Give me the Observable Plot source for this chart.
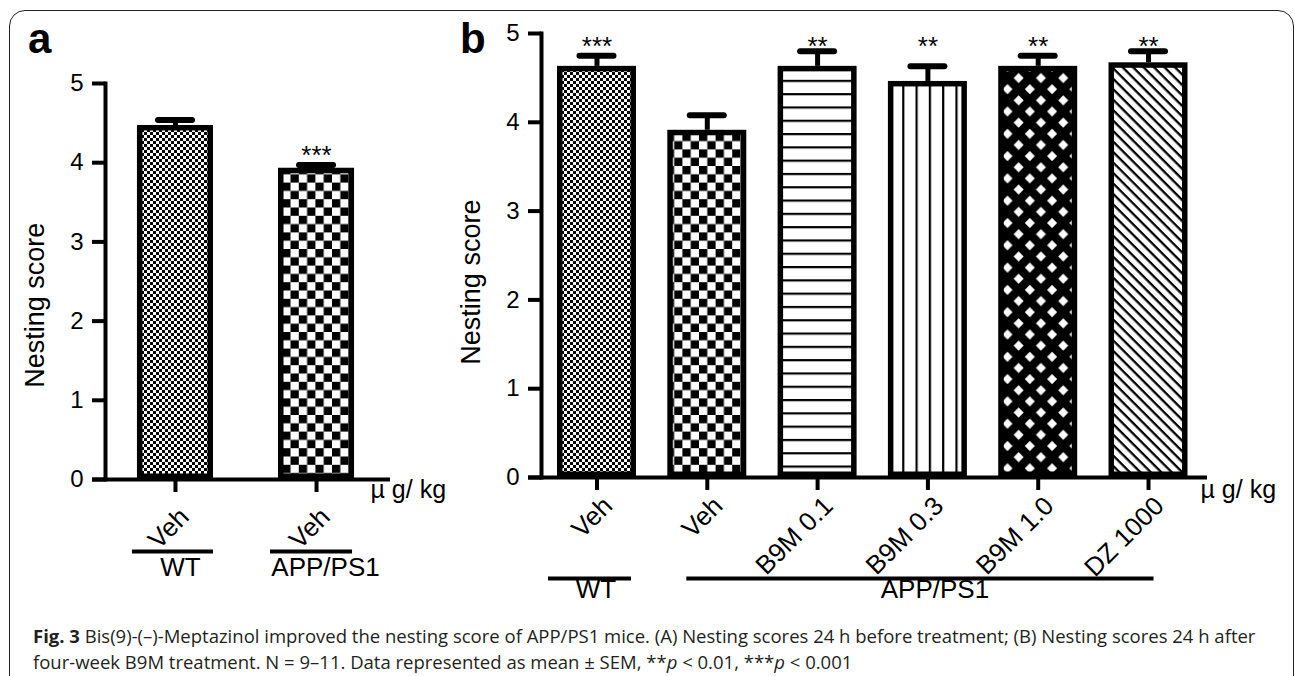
<!DOCTYPE html>
<html>
<head>
<meta charset="utf-8">
<script src="https://cdn.jsdelivr.net/npm/d3@7"></script>
<script src="https://cdn.jsdelivr.net/npm/@observablehq/plot@0.6"></script>
<style>
html, body { margin: 0; padding: 0; background: #fff; }
#root { position: relative; width: 1295px; height: 676px; overflow: hidden; font-family: "Liberation Sans", Arial, sans-serif; background: #fff; }
#box { position: absolute; left: 9px; top: 10px; width: 1285px; height: 720px; border: 1.5px solid #222; border-radius: 16px; box-sizing: border-box; }
.panel { position: absolute; top: 0; }
.plabel { position: absolute; font-weight: bold; font-size: 42px; line-height: 42px; color: #000; }
#caption { position: absolute; left: 33px; top: 623px; font-family: "Open Sans", sans-serif; font-size: 18.5px; line-height: 25.5px; color: #231f20; white-space: nowrap; }
</style>
</head>
<body>
<div id="root">
  <div id="box"></div>
  <svg width="0" height="0" style="position:absolute;left:0;top:0">
    <defs>
      <pattern id="pFine" patternUnits="userSpaceOnUse" width="6" height="6">
        <rect width="6" height="6" fill="#fff"/>
        <rect width="3" height="3" fill="#000"/>
        <rect x="3" y="3" width="3" height="3" fill="#000"/>
      </pattern>
      <pattern id="pCheck" patternUnits="userSpaceOnUse" width="16.6" height="16.6">
        <rect width="16.6" height="16.6" fill="#fff"/>
        <rect width="8.3" height="8.3" fill="#000"/>
        <rect x="8.3" y="8.3" width="8.3" height="8.3" fill="#000"/>
      </pattern>
      <pattern id="pH" patternUnits="userSpaceOnUse" width="10" height="13.3">
        <rect width="10" height="13.3" fill="#fff"/>
        <rect width="10" height="2.2" fill="#000"/>
      </pattern>
      <pattern id="pV" patternUnits="userSpaceOnUse" width="13.3" height="10">
        <rect width="13.3" height="10" fill="#fff"/>
        <rect width="2.2" height="10" fill="#000"/>
      </pattern>
      <pattern id="pLattice" patternUnits="userSpaceOnUse" width="22.3" height="22.3">
        <rect width="22.3" height="22.3" fill="#000"/>
        <polygon points="11.15,6.15 16.15,11.15 11.15,16.15 6.15,11.15" fill="#fff"/>
        <polygon points="0,-5 5,0 0,5 -5,0" fill="#fff"/>
        <polygon points="22.3,-5 27.3,0 22.3,5 17.3,0" fill="#fff"/>
        <polygon points="0,17.3 5,22.3 0,27.3 -5,22.3" fill="#fff"/>
        <polygon points="22.3,17.3 27.3,22.3 22.3,27.3 17.3,22.3" fill="#fff"/>
      </pattern>
      <pattern id="pDiag" patternUnits="userSpaceOnUse" width="7.4" height="7.4" patternTransform="rotate(45)">
        <rect width="7.4" height="7.4" fill="#fff"/>
        <rect width="7.4" height="2.3" fill="#000"/>
      </pattern>
    </defs>
  </svg>
  <div class="panel" id="pa" style="left:0"></div>
  <div class="panel" id="pb" style="left:450px"></div>
  <div class="plabel" style="left:28px;top:18px">a</div>
  <div class="plabel" style="left:460px;top:18px">b</div>
  <div id="caption"><b>Fig. 3</b> Bis(9)-(–)-Meptazinol improved the nesting score of APP/PS1 mice. (A) Nesting scores 24 h before treatment; (B) Nesting scores 24 h after<br>four-week B9M treatment. N = 9–11. Data represented as mean ± SEM, **<i>p</i> &lt; 0.01, ***<i>p</i> &lt; 0.001</div>
</div>
<script>
// ---------- data ----------
const yTicks = [0, 1, 2, 3, 4, 5];
const unitLabel = "µ g/ kg";
const axisTitle = "Nesting score";

// Panel a
const aLabels = ["Veh", "Veh"];
const aGroups = ["WT", "APP/PS1"];
const aMeans = [4.47, 3.93];
const aSEM = [0.07, 0.04];
const aSig = ["", "***"];

// Panel b
const bLabels = ["Veh", "Veh", "B9M 0.1", "B9M 0.3", "B9M 1.0", "DZ 1000"];
const bGroups = ["WT", "APP/PS1", "APP/PS1", "APP/PS1", "APP/PS1", "APP/PS1"];
const bMeans = [4.63, 3.91, 4.63, 4.46, 4.63, 4.67];
const bSEM = [0.12, 0.17, 0.17, 0.17, 0.12, 0.13];
const bSig = ["***", "", "**", "**", "**", "**"];

// ---------- styles ----------
const aFills = ["url(#pFine)", "url(#pCheck)"];
const bFills = ["url(#pFine)", "url(#pCheck)", "url(#pH)", "url(#pV)", "url(#pLattice)", "url(#pDiag)"];

function rowsOf(prefix, labels, groups, means, sems, sigs, fills) {
  return labels.map((label, i) => ({
    id: prefix + i, label, group: groups[i], mean: means[i], sem: sems[i], sig: sigs[i], fill: fills[i]
  }));
}
function groupSpans(rows) {
  const spans = [];
  for (const r of rows) {
    const last = spans[spans.length - 1];
    if (last && last.label === r.group) last.to = r.id;
    else spans.push({label: r.group, from: r.id, to: r.id});
  }
  return spans;
}

function makePanel(cfg) {
  const {rows, width, height, marginLeft, marginRight, marginTop, marginBottom,
         xRange, paddingInner, paddingOuter, bw, star, tickLab, unit, groupCfg} = cfg;
  const spans = groupSpans(rows);
  const font = 26;
  const groupMarks = spans.flatMap((s, k) => {
    const g = groupCfg[k];
    return [
      Plot.ruleY([s], {x1: "from", x2: "to", y: () => 0, dy: g.lineDy, insetLeft: g.insetLeft, insetRight: g.insetRight, strokeWidth: 4}),
      Plot.text([s], {x: () => g.anchor(rows, s), frameAnchor: "bottom", text: "label", dx: g.textDx, dy: g.textDy, fontSize: font})
    ];
  });
  return Plot.plot({
    width, height, marginLeft, marginRight, marginTop, marginBottom,
    style: {fontFamily: "Liberation Sans, Arial, sans-serif", color: "#000", background: "transparent"},
    x: {type: "band", domain: rows.map(d => d.id), range: xRange, paddingInner, paddingOuter, round: false},
    y: {domain: [0, 5]},
    color: {type: "identity"},
    marks: [
      Plot.barY(rows, {x: "id", y: "mean", fill: "fill", stroke: "#000", strokeWidth: 5.5, inset: 2.75}),
      Plot.ruleX(rows, {x: "id", y1: "mean", y2: d => d.mean + d.sem, strokeWidth: 5}),
      Plot.tickY(rows, {x: "id", y: d => d.mean + d.sem, strokeWidth: 6, strokeLinecap: "round", inset: (bw - 34) / 2}),
      Plot.text(rows.filter(d => d.sig), star),
      Plot.frame({anchor: "left", strokeWidth: 4, strokeLinecap: "square"}),
      Plot.ruleY([0], {strokeWidth: 4, insetLeft: -13}),
      Plot.axisY(yTicks, {tickSize: 13, tickPadding: 9, fontSize: 24, strokeWidth: 4, tickFormat: d => String(d), label: null}),
      Plot.axisX({tickSize: 13, strokeWidth: 4, tickFormat: () => "", label: null}),
      Plot.text(rows, {x: "id", frameAnchor: "bottom", text: "label", rotate: -45, textAnchor: "end", dx: tickLab.dx, dy: tickLab.dy, fontSize: font}),
      Plot.text([unitLabel], {frameAnchor: "bottom-right", textAnchor: "start", dx: unit.dx, dy: unit.dy, fontSize: 25}),
      Plot.text([axisTitle], {frameAnchor: "left", y: () => 2.2, rotate: -90, textAnchor: "middle", dx: -70, fontSize: 27}),
      ...groupMarks
    ]
  });
}

const rowsA = rowsOf("a", aLabels, aGroups, aMeans, aSEM, aSig, aFills);
const rowsB = rowsOf("b", bLabels, bGroups, bMeans, bSEM, bSig, bFills);

const panelA = makePanel({
  rows: rowsA, width: 450, height: 620, marginLeft: 105, marginRight: 60, marginTop: 83, marginBottom: 141,
  xRange: [105, 386], paddingInner: 0.461, paddingOuter: 0.2265, bw: 76,
  star: {x: "id", y: d => d.mean + d.sem, text: "sig", dy: -9.5, fontSize: 26},
  tickLab: {dx: 15, dy: 39},
  unit: {dx: -20, dy: 18},
  groupCfg: [
    {lineDy: 72, insetLeft: -5, insetRight: 0, anchor: (rows, s) => s.from, textDx: 5, textDy: 96},
    {lineDy: 72, insetLeft: -8, insetRight: 2, anchor: (rows, s) => s.from, textDx: 9, textDy: 96}
  ]
});

const panelB = makePanel({
  rows: rowsB, width: 845, height: 620, marginLeft: 91, marginRight: 88, marginTop: 33, marginBottom: 143,
  xRange: [91, 753.5], paddingInner: 0.284, paddingOuter: 0.145, bw: 79,
  star: {x: "id", frameAnchor: "top", text: "sig", dy: 3.5, fontSize: 26},
  tickLab: {dx: 17, dy: 30},
  unit: {dx: -7, dy: 20},
  groupCfg: [
    {lineDy: 101, insetLeft: -9, insetRight: 5, anchor: (rows, s) => s.from, textDx: -1, textDy: 120},
    {lineDy: 101, insetLeft: 19, insetRight: 34, anchor: (rows, s) => rows[3].id, textDx: 7, textDy: 120}
  ]
});

document.getElementById("pa").appendChild(panelA);
document.getElementById("pb").appendChild(panelB);
</script>
</body>
</html>
